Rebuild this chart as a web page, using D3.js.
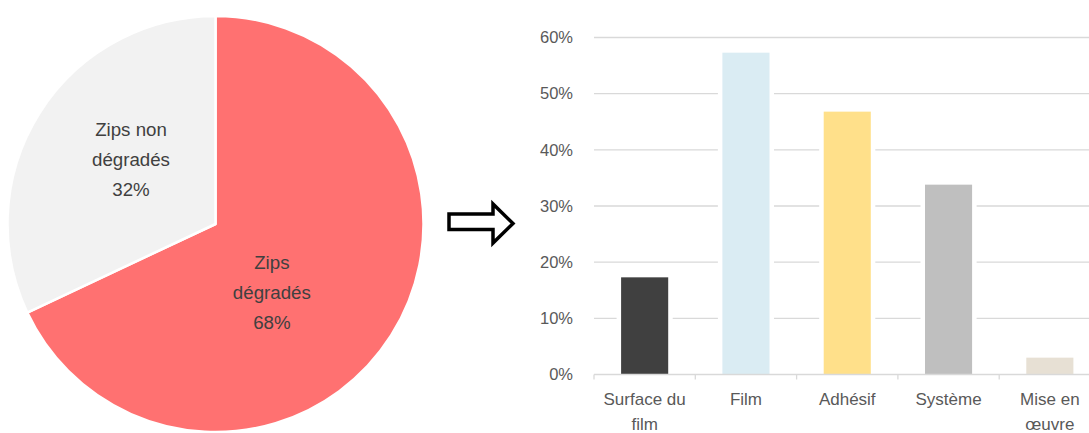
<!DOCTYPE html>
<html><head><meta charset="utf-8">
<script src="https://cdn.jsdelivr.net/npm/d3@7"></script>
<style>body{margin:0;background:#fff}svg{display:block}text{font-family:"Liberation Sans",Arial,sans-serif}</style>
</head><body>
<svg id="c" width="1089" height="433"></svg>
<script>
// Pie data
const pieLabels = [["Zips","dégradés","68%"],["Zips non","dégradés","32%"]];
const pieValues = [68, 32];
const pieColors = ["#ff7171", "#f2f2f2"];

// Bar data
const barCategories = [["Surface du","film"],["Film"],["Adhésif"],["Système"],["Mise en","œuvre"]];
const barValues = [0.173, 0.573, 0.468, 0.338, 0.030];
const barColors = ["#404040", "#daecf3", "#ffe08a", "#bfbfbf", "#e7e0d4"];
const yTicks = [0, 0.1, 0.2, 0.3, 0.4, 0.5, 0.6];

const svg = d3.select("#c");

// ---- Pie ----
const cx = 215.5, cy = 224, R = 208;
const pie = d3.pie().sort(null).value(d => d)(pieValues);
const arc = d3.arc().innerRadius(0).outerRadius(R);
const gp = svg.append("g").attr("transform", `translate(${cx},${cy})`);
gp.selectAll("path").data(pie).join("path")
  .attr("d", arc).attr("fill", (d, i) => pieColors[i])
  .attr("stroke", "#fff").attr("stroke-width", 2.5).attr("stroke-linejoin", "round");
const labelAdj = [{r: 89, da: 0.32}, {r: 106.6, da: 0.09}];
pie.forEach((d, i) => {
  const a = (d.startAngle + d.endAngle) / 2 + labelAdj[i].da;
  const x = Math.sin(a) * labelAdj[i].r, y = -Math.cos(a) * labelAdj[i].r;
  const t = gp.append("text").attr("text-anchor", "middle").attr("fill", "#404040")
    .attr("font-size", 18.7);
  pieLabels[i].forEach((s, k) => {
    t.append("tspan").attr("x", x).attr("y", y + (k - 1) * 30 + 6.5).text(s);
  });
});

// ---- Arrow ----
const arrowPts = [[449,214],[493,214],[493,204],[513,223.5],[493,243],[493,229.5],[449,229.5]];
svg.append("path").attr("d", d3.line()(arrowPts) + "Z")
  .attr("fill", "#fff").attr("stroke", "#000").attr("stroke-width", 3.5).attr("stroke-linejoin", "miter");

// ---- Bars ----
const x = d3.scaleBand().domain(d3.range(barValues.length)).range([594, 1100.5]).padding(0);
const y = d3.scaleLinear().domain([0, 0.6]).range([374.5, 37.5]);
const gb = svg.append("g");
gb.selectAll("line.grid").data(yTicks.slice(1)).join("line")
  .attr("x1", 594).attr("x2", 1089).attr("y1", d => y(d)).attr("y2", d => y(d))
  .attr("stroke", "#d9d9d9").attr("stroke-width", 1.3);
gb.selectAll("text.yt").data(yTicks).join("text")
  .attr("x", 573).attr("y", d => y(d) + 5.8).attr("text-anchor", "end")
  .attr("font-size", 16.5).attr("fill", "#595959").text(d => d3.format(".0%")(d));
const bw = x.bandwidth() * 0.465;
const bx = i => x(i) + (x.bandwidth() - bw) / 2;
gb.selectAll("rect.bg").data(barValues).join("rect")
  .attr("x", (d, i) => bx(i) - 4.5).attr("width", bw + 9)
  .attr("y", d => y(d)).attr("height", d => y(0) - y(d)).attr("fill", "#fff");
gb.selectAll("rect.bar").data(barValues).join("rect")
  .attr("x", (d, i) => bx(i)).attr("width", bw)
  .attr("y", d => y(d)).attr("height", d => y(0) - y(d)).attr("fill", (d, i) => barColors[i]);
// axis line and ticks
gb.append("line").attr("x1", 594).attr("x2", 1089).attr("y1", y(0)).attr("y2", y(0))
  .attr("stroke", "#d9d9d9").attr("stroke-width", 1.3);
gb.selectAll("line.tk").data(d3.range(barValues.length)).join("line")
  .attr("x1", i => x(i)).attr("x2", i => x(i)).attr("y1", y(0)).attr("y2", y(0) + 5)
  .attr("stroke", "#d9d9d9").attr("stroke-width", 1.3);
barCategories.forEach((lines, i) => {
  const t = gb.append("text").attr("text-anchor", "middle").attr("fill", "#595959").attr("font-size", 17);
  lines.forEach((s, k) => t.append("tspan").attr("x", x(i) + x.bandwidth() / 2).attr("y", 404.5 + k * 25.5).text(s));
});
</script>
</body></html>
